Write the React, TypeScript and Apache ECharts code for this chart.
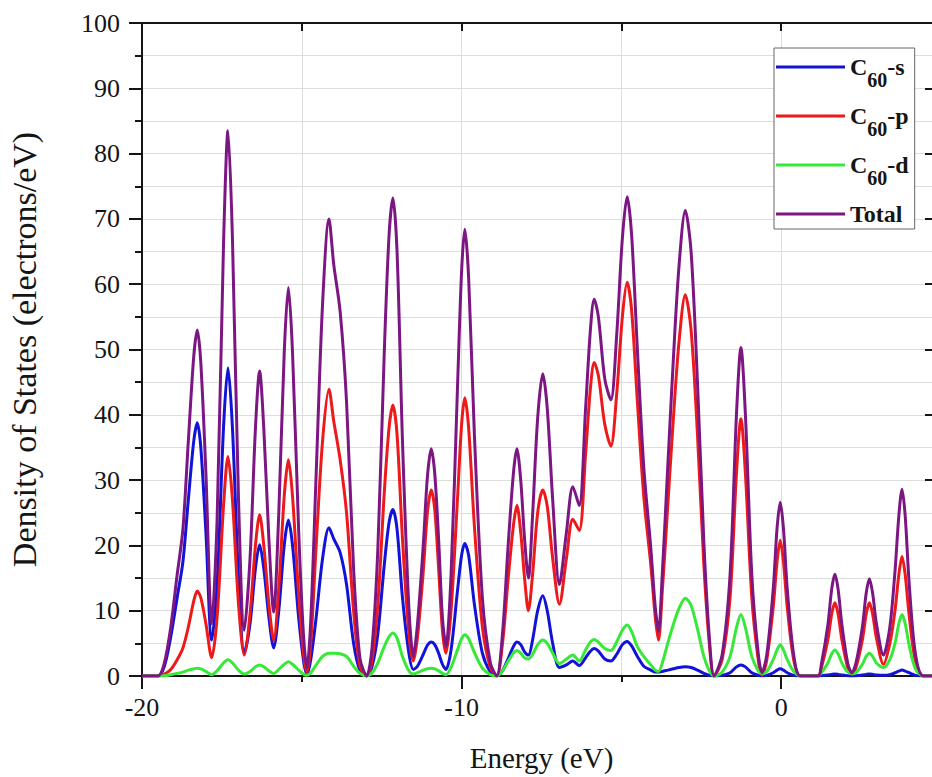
import React, { useEffect, useRef } from 'react';
import * as echarts from 'echarts';

// Energy grid (eV)
const energy = [
  -20, -19.5, -19.3, -19.1, -18.9, -18.72, -18.55, -18.38, -18.27, -18.16,
  -18.0, -17.82, -17.65, -17.45, -17.31, -17.17, -16.98, -16.8, -16.62, -16.45,
  -16.32, -16.19, -16.03, -15.88, -15.72, -15.55, -15.42, -15.29, -15.1, -14.95,
  -14.84, -14.72, -14.55, -14.35, -14.15, -14.0, -13.8, -13.6, -13.38, -13.18,
  -12.97, -12.8, -12.62, -12.42, -12.27, -12.15, -12.02, -11.85, -11.65, -11.51,
  -11.38, -11.2, -11.07, -10.95, -10.84, -10.72, -10.6, -10.49, -10.33, -10.13,
  -10.0, -9.9, -9.78, -9.6, -9.35, -9.1, -8.9, -8.72, -8.55, -8.38,
  -8.27, -8.15, -8.03, -7.91, -7.78, -7.62, -7.46, -7.32, -7.15, -6.94,
  -6.72, -6.52, -6.32, -6.12, -5.97, -5.85, -5.72, -5.52, -5.33, -5.15,
  -4.97, -4.82, -4.68, -4.5, -4.3, -4.08, -3.94, -3.84, -3.72, -3.55,
  -3.38, -3.2, -3.0, -2.82, -2.62, -2.42, -2.25, -2.1, -1.85, -1.6,
  -1.4, -1.26, -1.12, -0.92, -0.72, -0.6, -0.45, -0.25, -0.13, -0.03,
  0.07, 0.19, 0.39, 0.6, 1.15, 1.26, 1.46, 1.58, 1.68, 1.78,
  1.9, 2.08, 2.21, 2.34, 2.54, 2.66, 2.76, 2.86, 2.98, 3.2,
  3.4, 3.56, 3.68, 3.78, 3.88, 4.0, 4.2, 4.45, 5,
];

// C60-s projected DOS
const sStates = [
  0, 0, 1.5, 6, 12, 17.5, 27, 36, 38.8, 35,
  22, 5.5, 14, 38, 47.2, 38, 15, 3.5, 8, 16.5,
  20.1, 16.5, 9, 4.3, 10, 20, 23.9, 20, 9, 2.5,
  0.3, 2.5, 9, 18, 22.7, 21, 18.9, 14, 5, 0.8,
  0, 1.5, 6.5, 17, 23.5, 25.5, 22.5, 12, 3.5, 1,
  1.5, 3.3, 4.7, 5.2, 4.8, 3.5, 1.8, 1, 4, 13,
  18.5, 20.3, 18.5, 11, 3.5, 0.6, 0, 0.8, 2.6, 4.5,
  5.2, 4.8, 3.7, 3.2, 5.5, 10, 12.3, 10, 5, 1.3,
  1.7, 2.3, 1.6, 2.8, 3.8, 4.2, 3.8, 2.6, 2.3, 3.3,
  4.8, 5.3, 4.6, 3, 1.5, 0.9, 0.6, 0.6, 0.7, 0.9,
  1.1, 1.3, 1.4, 1.3, 0.9, 0.4, 0.1, 0, 0.1, 0.5,
  1.4, 1.7, 1.4, 0.5, 0.1, 0, 0.1, 0.5, 0.9, 1.1,
  0.9, 0.5, 0.1, 0, 0, 0.04, 0.15, 0.25, 0.3, 0.25,
  0.15, 0.03, 0, 0.03, 0.15, 0.25, 0.3, 0.25, 0.15, 0.1,
  0.2, 0.5, 0.75, 0.9, 0.75, 0.5, 0.1, 0, 0,
];

// C60-p projected DOS
const pStates = [
  0, 0, 0.3, 1, 2.5, 4.3, 7.5, 11.5, 13, 12,
  8, 2.8, 9, 26, 33.6, 27, 11, 3.2, 9.5, 20,
  24.7, 20, 11, 5.5, 13.5, 27.5, 33.1, 27.5, 12.5, 3.5,
  0.6, 5, 20, 36, 43.9, 39, 33.1, 25, 10, 1.5,
  0, 2.5, 11, 28, 38, 41.5, 37, 21, 6.5, 2.3,
  6, 16, 25, 28.5, 25.5, 16.5, 7, 3.5, 10, 27,
  38.5, 42.6, 38, 23, 7.5, 1.3, 0, 5, 14.5, 23,
  26.1, 22, 15, 10, 15.5, 25, 28.5, 26, 18, 11,
  18, 24, 22.3, 34, 44, 48, 46, 38.5, 35.2, 43,
  55, 60.3, 56, 42, 27.5, 17, 9, 5.5, 13, 26,
  39, 51, 58.4, 53, 37, 17, 5, 0, 2.5, 12,
  31, 39.4, 31, 12, 2.5, 0.1, 2.5, 10.5, 17.5, 20.8,
  17.5, 10.5, 2.5, 0, 0, 1.3, 5.5, 9.5, 11.2, 9.5,
  5.5, 1.3, 0.2, 1.3, 5.5, 9.5, 11.2, 9.5, 5.8, 1.8,
  5, 10, 15.5, 18.3, 15.5, 9.5, 2.2, 0, 0,
];

// C60-d projected DOS
const dStates = [
  0, 0, 0.05, 0.2, 0.4, 0.6, 0.9, 1.1, 1.2, 1.1,
  0.7, 0.2, 0.8, 2, 2.5, 2, 0.9, 0.3, 0.7, 1.4,
  1.7, 1.4, 0.8, 0.4, 1, 1.8, 2.2, 1.8, 0.9, 0.3,
  0.1, 0.5, 1.7, 3, 3.5, 3.5, 3.4, 3, 1.5, 0.4,
  0, 0.5, 2, 4.5, 6, 6.6, 5.8, 3, 0.8, 0.3,
  0.5, 0.9, 1.1, 1.2, 1.1, 0.8, 0.4, 0.2, 1.3, 4,
  5.7, 6.3, 5.7, 3.6, 1.2, 0.2, 0, 0.8, 2.2, 3.5,
  3.9, 3.5, 2.8, 2.6, 3.3, 4.8, 5.5, 5, 3.5, 1.9,
  2.6, 3.2, 2.3, 4, 5.2, 5.6, 5.2, 4.2, 3.9, 5.2,
  7, 7.8, 6.8, 4.5, 3, 1.7, 0.9, 0.7, 2, 5,
  7.8, 10.3, 11.9, 10.8, 7.2, 3, 0.8, 0, 0.6, 3,
  7.4, 9.4, 7.4, 3, 0.8, 0.4, 0.7, 2.5, 4, 4.8,
  4, 2.5, 0.7, 0, 0, 0.5, 2, 3.4, 4, 3.4,
  2, 0.6, 0.4, 0.5, 1.8, 3, 3.5, 3, 2, 1.3,
  2.5, 5, 8, 9.4, 8, 4.8, 1.1, 0, 0,
];

// Total DOS
const totalStates = [
  0, 0, 2, 7.5, 15.5, 22.5, 36, 49, 53, 48,
  31, 8, 24, 66, 83.5, 67, 27, 7, 18, 38,
  46.7, 38, 21, 9.8, 25, 49.5, 59.5, 49.5, 22.5, 6.5,
  1.2, 8.5, 31, 57, 70, 63, 55.8, 42, 16.5, 2.7,
  0, 4.5, 19.5, 49.5, 67.5, 73.2, 65, 36, 10.5, 3,
  8, 20, 30.5, 34.8, 31, 21, 9, 4.5, 15.5, 44,
  62, 68.4, 61, 37, 12, 2, 0, 6.5, 19.5, 31,
  34.8, 30, 21, 15, 24.5, 39.5, 46.3, 41, 27, 14,
  22, 29, 26.1, 41, 53, 57.7, 55, 45.5, 42.3, 52,
  67, 73.4, 67.5, 50, 32, 19.6, 10.5, 6.8, 15.7, 32,
  48, 62.6, 71.3, 65, 45, 20.5, 6, 0, 3.2, 15.5,
  40, 50.3, 40, 15.5, 3.5, 0.5, 3.3, 13.3, 22.6, 26.6,
  22.6, 13.3, 3.3, 0, 0, 1.9, 7.8, 13.3, 15.6, 13.3,
  7.8, 2, 0.5, 2, 7.5, 12.7, 14.9, 12.7, 8, 3.2,
  7.5, 16, 24.5, 28.6, 24.5, 14.5, 3.4, 0, 0,
];

const seriesNames = ['C60-s', 'C60-p', 'C60-d', 'Total'];
const seriesColors = ['#1212d8', '#ec1a1a', '#38e838', '#7c1682'];
const seriesValues = [sStates, pStates, dStates, totalStates];

const X_MIN = -20;
const X_MAX = 5;
const X_LABEL_STEP = 10;
const X_GRID_STEP = 5;
const Y_MIN = 0;
const Y_MAX = 100;
const Y_LABEL_STEP = 10;

const FONT = "'Liberation Serif', 'Times New Roman', serif";
const INK = '#151515';
const GRID_COLOR = '#dddddd';

export default function App() {
  const ref = useRef<HTMLDivElement>(null);

  useEffect(() => {
    if (!ref.current) return;
    const chart = echarts.init(ref.current, undefined, { renderer: 'svg' });

    const series = seriesNames.map((name, k) => ({
      name,
      type: 'line',
      xAxisIndex: 0,
      yAxisIndex: 0,
      showSymbol: false,
      symbol: 'none',
      smooth: 0.3,
      clip: true,
      color: seriesColors[k],
      lineStyle: { width: 3, color: seriesColors[k] },
      data: energy.map((e, i) => [e, seriesValues[k][i]]),
      z: 2 + k,
    }));

    chart.setOption({
      animation: false,
      backgroundColor: '#ffffff',
      textStyle: { fontFamily: FONT },
      grid: {
        left: 142,
        top: 23,
        width: 799,
        height: 653,
        containLabel: false,
        outerBoundsMode: 'none',
      },
      legend: {
        orient: 'vertical',
        left: 774,
        top: 48,
        data: seriesNames,
        icon: 'rect',
        itemWidth: 69,
        itemHeight: 3,
        itemGap: 14,
        padding: [7, 6, 3, 2],
        backgroundColor: '#ffffff',
        borderColor: '#666666',
        borderWidth: 1,
        selectedMode: false,
        formatter: (name: string) => {
          const m = name.match(/^([A-Z])(\d+)(-.*)$/);
          if (!m) return `{m|${name}}`;
          return `{m|${m[1]}}{sub|${m[2]}}{m|${m[3]}}`;
        },
        textStyle: {
          color: INK,
          fontFamily: FONT,
          fontWeight: 'bold',
          rich: {
            m: { fontSize: 24, fontWeight: 'bold', fontFamily: FONT, color: INK, lineHeight: 46, verticalAlign: 'middle' },
            sub: { fontSize: 20, fontWeight: 'bold', fontFamily: FONT, color: INK, lineHeight: 20, verticalAlign: 'bottom' },
          },
        },
      },
      xAxis: [
        {
          type: 'value',
          min: X_MIN,
          max: X_MAX,
          interval: X_LABEL_STEP,
          position: 'bottom',
          name: 'Energy (eV)',
          nameLocation: 'middle',
          nameGap: 66,
          nameTextStyle: { fontSize: 29, fontFamily: FONT, color: INK, lineHeight: 32 },
          axisLine: { show: true, onZero: false, lineStyle: { color: INK, width: 2 } },
          axisTick: { show: true, inside: false, length: 13, lineStyle: { color: INK, width: 2 } },
          axisLabel: { show: true, margin: 18, fontSize: 26, fontFamily: FONT, color: INK, showMaxLabel: false },
          splitLine: { show: false },
        },
        {
          type: 'value',
          min: X_MIN,
          max: X_MAX,
          interval: X_GRID_STEP,
          position: 'bottom',
          axisLine: { show: false, onZero: false },
          axisTick: { show: true, inside: false, length: 6, lineStyle: { color: INK, width: 2 } },
          axisLabel: { show: false },
          splitLine: { show: true, lineStyle: { color: GRID_COLOR, width: 1 } },
        },
        {
          type: 'value',
          min: X_MIN,
          max: X_MAX,
          interval: X_GRID_STEP,
          position: 'top',
          axisLine: { show: true, onZero: false, lineStyle: { color: INK, width: 2 } },
          axisTick: { show: true, inside: true, length: 8, lineStyle: { color: INK, width: 2 } },
          axisLabel: { show: false },
          splitLine: { show: false },
        },
      ],
      yAxis: [
        {
          type: 'value',
          min: Y_MIN,
          max: Y_MAX,
          interval: Y_LABEL_STEP,
          position: 'left',
          name: 'Density of States (electrons/eV)',
          nameLocation: 'middle',
          nameGap: 101,
          nameTextStyle: { fontSize: 34, fontFamily: FONT, color: INK },
          axisLine: { show: true, onZero: false, lineStyle: { color: INK, width: 2 } },
          axisTick: { show: true, inside: false, length: 13, lineStyle: { color: INK, width: 2 } },
          minorTick: { show: true, splitNumber: 2, length: 7, lineStyle: { color: INK, width: 2 } },
          axisLabel: { show: true, margin: 22, fontSize: 26, fontFamily: FONT, color: INK },
          splitLine: { show: true, lineStyle: { color: GRID_COLOR, width: 1 } },
          minorSplitLine: { show: true, lineStyle: { color: GRID_COLOR, width: 1 } },
        },
        {
          type: 'value',
          min: Y_MIN,
          max: Y_MAX,
          interval: Y_LABEL_STEP,
          position: 'right',
          axisLine: { show: true, onZero: false, lineStyle: { color: INK, width: 2 } },
          axisTick: { show: true, inside: true, length: 16, lineStyle: { color: INK, width: 2 } },
          minorTick: { show: true, splitNumber: 2, length: 9, lineStyle: { color: INK, width: 2 } },
          axisLabel: { show: false },
          splitLine: { show: false },
        },
      ],
      series,
    });

    return () => chart.dispose();
  }, []);

  return (
    <div
      ref={ref}
      style={{ position: 'fixed', left: 0, top: 0, width: 932, height: 777, background: '#fff' }}
    />
  );
}
